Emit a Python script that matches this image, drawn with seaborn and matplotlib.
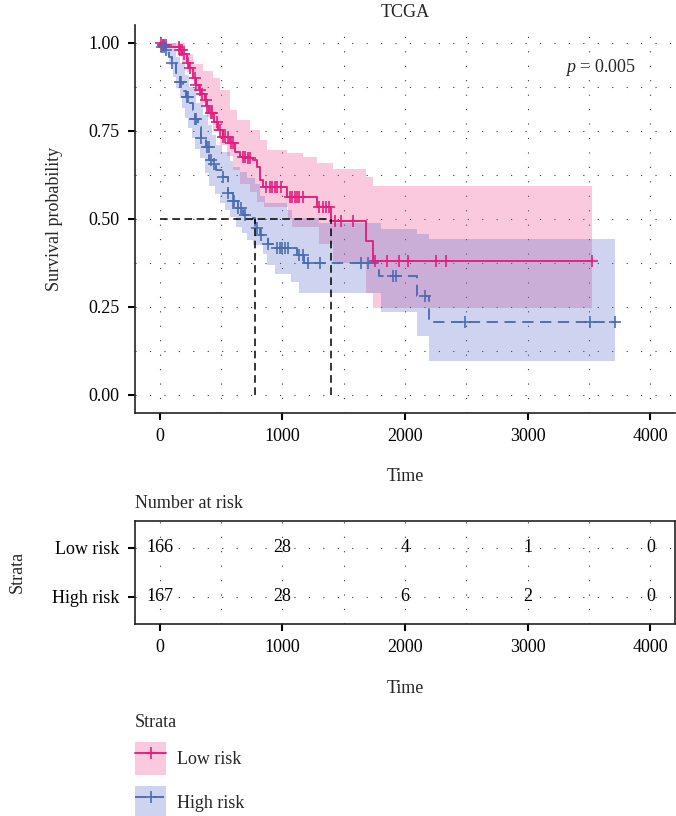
import numpy as np
import pandas as pd
import matplotlib
matplotlib.use("Agg")
import matplotlib.pyplot as plt
import seaborn as sns
from matplotlib.patches import Patch
from matplotlib.lines import Line2D
from matplotlib.colors import to_rgba

sns.set_theme(style="white")
plt.rcParams["font.family"] = ["Liberation Serif", "DejaVu Serif"]
plt.rcParams["mathtext.fontset"] = "custom"
plt.rcParams["mathtext.rm"] = "Liberation Serif"
plt.rcParams["mathtext.it"] = "Liberation Serif:italic"

# ---------------------------------------------------------------- data
strata = ["Low risk", "High risk"]

# Kaplan-Meier estimate, low-risk group
low_time = [0, 24, 57, 163, 187, 220, 244, 269, 300, 318, 340, 367, 390, 407, 440,
            473, 513, 570, 611, 652, 709, 758, 790, 815, 839, 1035, 1287, 1401,
            1686, 1743, 3527]
low_surv = [1.0, 0.995, 0.99, 0.98, 0.97, 0.943, 0.93, 0.90, 0.88, 0.866, 0.855,
            0.838, 0.82, 0.80, 0.776, 0.753, 0.733, 0.716, 0.69, 0.676, 0.673,
            0.668, 0.648, 0.61, 0.592, 0.5625, 0.534, 0.494, 0.4375, 0.382, 0.382]
low_up_time = [0, 114, 204, 269, 350, 432, 489, 570, 635, 733, 815, 872, 1035,
               1165, 1287, 1410, 1686, 1743, 3527]
low_up_surv = [1.0, 1.0, 0.97, 0.94, 0.92, 0.90, 0.866, 0.81, 0.78, 0.753, 0.724,
               0.696, 0.6875, 0.676, 0.659, 0.642, 0.62, 0.594, 0.594]
low_lo_time = [0, 100, 179, 220, 285, 326, 383, 432, 489, 546, 595, 652, 733, 798,
               855, 1043, 1083, 1303, 1410, 1686, 1743, 3527]
low_lo_surv = [1.0, 0.985, 0.946, 0.918, 0.866, 0.83, 0.79, 0.75, 0.71, 0.68,
               0.64, 0.60, 0.577, 0.548, 0.534, 0.50, 0.477, 0.43, 0.375, 0.29,
               0.247, 0.247]
low_censor = [15, 25, 40, 55, 160, 170, 180, 200, 230, 250, 290, 300, 330, 345,
              380, 390, 420, 430, 470, 490, 520, 530, 560, 580, 600, 680, 700, 720,
              740, 870, 900, 920, 940, 960, 990, 1060, 1080, 1100, 1120, 1140,
              1170, 1300, 1330, 1360, 1380, 1430, 1480, 1580, 1752, 1855, 1955,
              2022, 2254, 2336, 3527]

# Kaplan-Meier estimate, high-risk group
high_time = [0, 16, 40, 80, 98, 130, 163, 190, 212, 240, 269, 290, 310, 340, 375,
             407, 435, 464, 513, 554, 595, 636, 676, 750, 775, 815, 880, 950, 1120,
             1180, 1792, 2094, 2194, 3713]
high_surv = [1.0, 0.99, 0.98, 0.96, 0.943, 0.915, 0.889, 0.865, 0.847, 0.83, 0.81,
             0.785, 0.76, 0.73, 0.705, 0.668, 0.655, 0.64, 0.62, 0.574, 0.55,
             0.531, 0.511, 0.503, 0.474, 0.455, 0.43, 0.418, 0.398, 0.375, 0.338,
             0.281, 0.208, 0.208]
high_up_time = [0, 80, 130, 163, 204, 244, 301, 350, 391, 424, 464, 505, 570, 595,
                652, 709, 775, 815, 860, 1035, 1080, 1303, 1808, 2094, 2194, 3713]
high_up_surv = [1.0, 1.0, 0.96, 0.943, 0.91, 0.875, 0.83, 0.795, 0.767, 0.74,
                0.71, 0.69, 0.665, 0.648, 0.633, 0.616, 0.60, 0.565, 0.545, 0.525,
                0.503, 0.489, 0.472, 0.457, 0.443, 0.443]
high_lo_time = [0, 24, 57, 81, 106, 138, 163, 187, 204, 228, 261, 285, 326, 367,
                407, 448, 489, 530, 570, 627, 668, 709, 758, 840, 872, 937, 1075,
                1140, 1808, 2094, 2194, 3713]
high_lo_surv = [1.0, 0.99, 0.966, 0.938, 0.903, 0.872, 0.844, 0.815, 0.787, 0.759,
                0.73, 0.70, 0.673, 0.63, 0.595, 0.57, 0.545, 0.526, 0.506, 0.477,
                0.46, 0.44, 0.426, 0.40, 0.37, 0.345, 0.32, 0.29, 0.236, 0.168,
                0.097, 0.097]
high_censor = [20, 35, 50, 98, 165, 175, 225, 235, 290, 300, 340, 390, 400, 420,
               440, 520, 560, 600, 610, 640, 660, 700, 790, 830, 880, 960, 980,
               1000, 1020, 1045, 1140, 1170, 1210, 1310, 1645, 1695, 1905, 1925,
               2165, 2490, 3510, 3713]

# Number at risk
risk_times = [0, 1000, 2000, 3000, 4000]
low_at_risk = [166, 28, 4, 1, 0]
high_at_risk = [167, 28, 6, 2, 0]

p_label = "0.005"

# ---------------------------------------------------------------- styling
line_colors = {"Low risk": "#E31E7E", "High risk": "#4A6DB2"}
fill_colors = {"Low risk": "#F54E91", "High risk": "#5F70CD"}
fill_alpha = 0.3
dash_style = {"Low risk": "-", "High risk": (0, (6, 3.5))}
grid_kw = dict(linestyle=(0, (1, 12)), linewidth=0.8, color="#333333")
fs = 13


def step_at(times, values, t):
    times = np.asarray(times, float)
    values = np.asarray(values, float)
    idx = np.searchsorted(times, np.asarray(t, float), side="right") - 1
    return values[np.clip(idx, 0, len(values) - 1)]


groups = {
    "Low risk": dict(t=low_time, s=low_surv, ut=low_up_time, us=low_up_surv,
                     lt=low_lo_time, ls=low_lo_surv, c=low_censor),
    "High risk": dict(t=high_time, s=high_surv, ut=high_up_time, us=high_up_surv,
                      lt=high_lo_time, ls=high_lo_surv, c=high_censor),
}

fig = plt.figure(figsize=(6.76, 8.16), dpi=100)
W, H = 676, 816


def frac_box(x0, y0, x1, y1):
    return [x0 / W, 1 - y1 / H, (x1 - x0) / W, (y1 - y0) / H]


ax = fig.add_axes(frac_box(135, 25.4, 675, 412.6))
axr = fig.add_axes(frac_box(135, 520.7, 675, 624))

# ---------------------------------------------------------------- survival curves
for name in strata:
    g = groups[name]
    grid_t = np.union1d(g["ut"], g["lt"])
    ax.fill_between(grid_t, step_at(g["lt"], g["ls"], grid_t),
                    step_at(g["ut"], g["us"], grid_t), step="post",
                    color=fill_colors[name], alpha=fill_alpha, linewidth=0)

for name in strata:
    g = groups[name]
    df = pd.DataFrame({"time": g["t"], "surv": g["s"]})
    sns.lineplot(data=df, x="time", y="surv", ax=ax, estimator=None, sort=False,
                 drawstyle="steps-post", color=line_colors[name],
                 linestyle=dash_style[name], linewidth=1.35)
    cen = pd.DataFrame({"time": g["c"], "surv": step_at(g["t"], g["s"], g["c"])})
    sns.scatterplot(data=cen, x="time", y="surv", ax=ax, marker="+", s=75,
                    color=line_colors[name], linewidth=1.2, zorder=4)

# median survival guides
medians = []
for name in strata:
    g = groups[name]
    s = np.asarray(g["s"])
    medians.append(np.asarray(g["t"])[np.argmax(s <= 0.5)])
med_kw = dict(color="black", linestyle=(0, (5, 3)), linewidth=1.1, zorder=5)
ax.plot([0, max(medians)], [0.5, 0.5], **med_kw)
for m in medians:
    ax.plot([m, m], [0, 0.5], **med_kw)

ax.text(3300, 0.93, r"$p$ = " + p_label, fontsize=fs, ha="left", va="center")

ax.set_xlim(-200, 4200)
ax.set_ylim(-0.05, 1.05)
ax.set_xticks(range(0, 4001, 1000))
ax.set_xticks(range(500, 4001, 1000), minor=True)
ax.set_yticks([0, 0.25, 0.5, 0.75, 1.0])
ax.set_yticks(np.arange(0.125, 1.0, 0.25), minor=True)
ax.set_yticklabels(["0.00", "0.25", "0.50", "0.75", "1.00"])
ax.grid(which="both", **grid_kw)
ax.set_axisbelow(True)
for side in ["top", "right"]:
    ax.spines[side].set_visible(False)
for side in ["left", "bottom"]:
    ax.spines[side].set_color("#222222")
    ax.spines[side].set_linewidth(1.2)
ax.tick_params(which="major", length=5, width=1.5, color="black",
               labelsize=fs, labelcolor="black", pad=6, left=True, bottom=True)
ax.tick_params(which="minor", length=0)
ax.set_xlabel("Time", fontsize=fs, labelpad=17)
ax.set_ylabel("Survival probability", fontsize=fs, labelpad=18)
ax.set_title("TCGA", fontsize=fs, pad=6)

# ---------------------------------------------------------------- risk table
for row, counts in enumerate([low_at_risk, high_at_risk], start=1):
    for t, n in zip(risk_times, counts):
        axr.text(t, row, str(n), ha="center", va="center", fontsize=fs, color="black")

axr.set_xlim(-200, 4200)
axr.set_ylim(2.56, 0.44)
axr.set_xticks(range(0, 4001, 1000))
axr.set_xticks(range(500, 4001, 1000), minor=True)
axr.set_yticks([1, 2])
axr.set_yticklabels(strata)
axr.grid(which="both", **grid_kw)
axr.set_axisbelow(True)
for side in axr.spines.values():
    side.set_visible(True)
    side.set_color("#222222")
    side.set_linewidth(1.2)
axr.tick_params(which="major", length=5, width=1.5, color="black",
                labelsize=fs, labelcolor="black", pad=6, left=True, bottom=True)
axr.tick_params(which="minor", length=0)
axr.set_xlabel("Time", fontsize=fs, labelpad=17)
axr.set_ylabel("Strata", fontsize=fs, labelpad=19)
axr.set_title("Number at risk", fontsize=fs, loc="left", pad=9)

# ---------------------------------------------------------------- legend
handles = []
for name in strata:
    patch = Patch(facecolor=to_rgba(fill_colors[name], fill_alpha), edgecolor="none")
    ln = Line2D([], [], color=line_colors[name], linestyle=dash_style[name],
                linewidth=1.35, marker="+", markersize=9, markeredgewidth=1.2)
    handles.append((patch, ln))
leg = fig.legend(handles, strata, title="Strata", loc="upper left",
                 bbox_to_anchor=(135 / W, 1 - 714 / H), frameon=False,
                 fontsize=fs, title_fontsize=fs, handlelength=1.72,
                 handleheight=2.4, labelspacing=0.62, handletextpad=0.6,
                 borderpad=0, borderaxespad=0, alignment="left")

fig.savefig("out.png", dpi=100)
